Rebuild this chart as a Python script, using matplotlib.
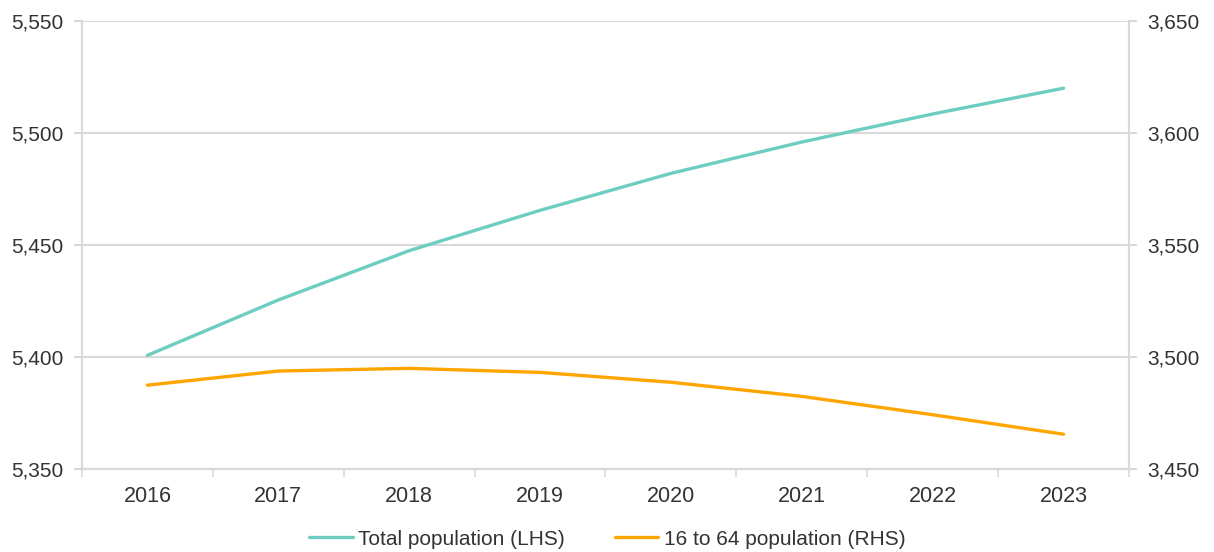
import matplotlib
matplotlib.use("Agg")
import matplotlib.pyplot as plt
from matplotlib.ticker import FuncFormatter, FixedLocator

plt.rcParams['font.family'] = ['Liberation Sans', 'DejaVu Sans']

years = ['2016', '2017', '2018', '2019', '2020', '2021', '2022', '2023']
total_pop = [5400.8, 5425.5, 5447.5, 5465.5, 5482.0, 5496.0, 5508.5, 5520.0]
working_pop = [3487.5, 3493.8, 3495.0, 3493.2, 3488.8, 3482.5, 3474.3, 3465.6]

teal = '#6ccdc0'
orange = '#ffa500'
grid_col = '#d9d9d9'
txt_col = '#333333'

fig = plt.figure(figsize=(12.14, 5.52), dpi=100)
ax = fig.add_axes([0.0675, 0.150, 0.8625, 0.812])
ax2 = ax.twinx()

x = list(range(len(years)))
l1, = ax.plot(x, total_pop, color=teal, lw=2.4, solid_capstyle='round', label='Total population (LHS)')
l2, = ax2.plot(x, working_pop, color=orange, lw=2.4, solid_capstyle='round', label='16 to 64 population (RHS)')

ax.set_xlim(-0.5, 7.5)
ax.set_ylim(5350, 5550)
ax2.set_ylim(3450, 3650)
ax.set_yticks([5350, 5400, 5450, 5500, 5550])
ax2.set_yticks([3450, 3500, 3550, 3600, 3650])

fmt = FuncFormatter(lambda v, p: f'{v:,.0f}')
ax.yaxis.set_major_formatter(fmt)
ax2.yaxis.set_major_formatter(fmt)

ax.set_xticks(x)
ax.set_xticklabels(years)
ax.xaxis.set_minor_locator(FixedLocator([i + 0.5 for i in range(-1, 8)]))
ax.tick_params(axis='x', which='major', length=0, pad=12, labelsize=15.5, colors=txt_col)
ax.tick_params(axis='x', which='minor', length=6, width=1.2, color=grid_col)
ax.tick_params(axis='y', length=6, width=1.5, color=grid_col, labelsize=15, labelcolor=txt_col, pad=7)
ax2.tick_params(axis='y', length=6, width=1.5, color=grid_col, labelsize=15, labelcolor=txt_col, pad=7)

ax.grid(axis='y', color=grid_col, lw=1.5)
ax.set_axisbelow(True)
for a in (ax, ax2):
    a.spines['top'].set_visible(False)
    for s in ('left', 'right', 'bottom'):
        a.spines[s].set_color(grid_col)
        a.spines[s].set_linewidth(1.5)

fig.legend([l1, l2], [l1.get_label(), l2.get_label()], loc='lower center',
           bbox_to_anchor=(0.5, -0.028), ncol=2, frameon=False, fontsize=15,
           handlelength=2.1, columnspacing=2.4, handletextpad=0.25,
           labelcolor=txt_col)

fig.savefig('out.png', dpi=100)
